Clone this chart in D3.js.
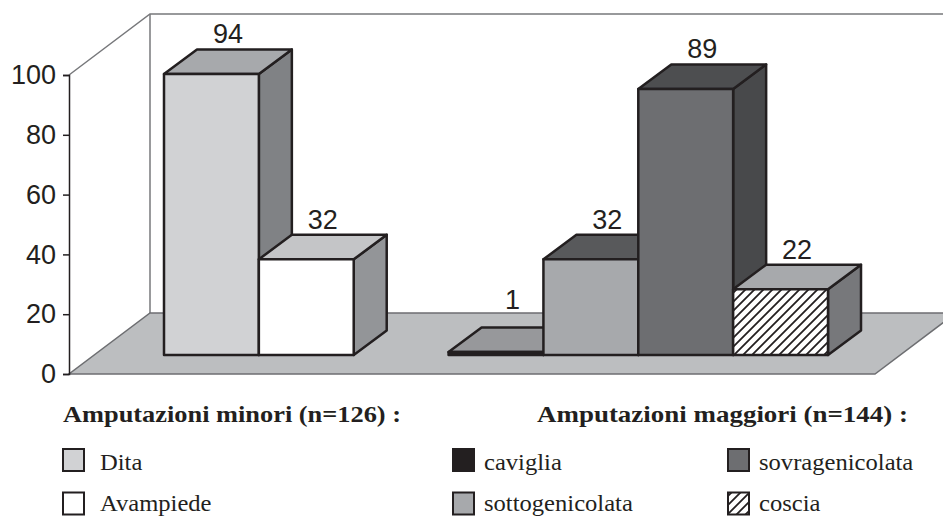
<!DOCTYPE html>
<html>
<head>
<meta charset="utf-8">
<script src="https://cdn.jsdelivr.net/npm/d3@7"></script>
<style>
  body { margin: 0; background: #fff; }
  svg { display: block; }
</style>
</head>
<body>
<div id="chart"></div>
<script>
// data
const categories = ["Dita", "Avampiede", "caviglia", "sottogenicolata", "sovragenicolata", "coscia"];
const values = [94, 32, 1, 32, 89, 22];
const groups = ["minori", "minori", "maggiori", "maggiori", "maggiori", "maggiori"];
const groupTitles = ["Amputazioni minori (n=126) :", "Amputazioni maggiori (n=144) :"];
const yTicks = [0, 20, 40, 60, 80, 100];

// face colours for each bar (front, top, side)
const palette = {
  "Dita":            { front: "#d1d2d4", top: "#a7a9ac", side: "#808285" },
  "Avampiede":       { front: "#ffffff", top: "#c4c5c7", side: "#939598" },
  "caviglia":        { front: "#231f20", top: "#97989b", side: "#58595b" },
  "sottogenicolata": { front: "#a7a9ac", top: "#58595b", side: "#6d6e71" },
  "sovragenicolata": { front: "#6d6e71", top: "#4d4e50", side: "#48494b" },
  "coscia":          { front: "url(#hatch)", top: "#a7a9ac", side: "#77787b" }
};

const width = 943, height = 516;
const ink = "#231f20";

const svg = d3.select("#chart")
  .append("svg")
    .attr("width", width)
    .attr("height", height);

const defs = svg.append("defs");
const hatch = defs.append("pattern")
    .attr("id", "hatch")
    .attr("patternUnits", "userSpaceOnUse")
    .attr("width", 9)
    .attr("height", 9);
hatch.append("rect").attr("width", 9).attr("height", 9).attr("fill", "#fff");
hatch.append("path")
    .attr("d", "M-1,1 L1,-1 M0,9 L9,0 M8,10 L10,8")
    .attr("stroke", ink)
    .attr("stroke-width", 1.8);

// 3d frame geometry
const axisX = 69;
const floorDx = 81, floorDy = -61;     // depth of the floor
const barOffY = -19;                    // where the bars stand in the depth
const depthX = 33, depthY = -24.5;      // depth of each bar

const yAxis = d3.scaleLinear().domain([0, 100]).range([374, 75]);
const yBar = d3.scaleLinear().domain([0, 100]).range([374 + barOffY, 75 + barOffY]);

// 7 slots: two minori bars, an empty one, four maggiori bars
const x = d3.scaleBand()
  .domain(d3.range(7))
  .range([164, 828])
  .padding(0);
const slotOf = i => i + (groups[i] === "maggiori" ? 1 : 0);

// back wall
const y0 = yAxis(0), yTop = yAxis(100);
svg.append("path")
    .attr("d", `M${axisX},${yTop} L${axisX + floorDx},${yTop + floorDy} L${width + 20},${yTop + floorDy}`)
    .attr("fill", "none")
    .attr("stroke", "#77787b")
    .attr("stroke-width", 1.5);
svg.append("line")
    .attr("x1", axisX + floorDx).attr("x2", axisX + floorDx)
    .attr("y1", yTop + floorDy).attr("y2", y0 + floorDy)
    .attr("stroke", "#77787b")
    .attr("stroke-width", 1.5);

// floor
const floorRight = 875;
svg.append("path")
    .attr("d", `M${axisX},${y0} L${floorRight},${y0} L${floorRight + floorDx},${y0 + floorDy} L${axisX + floorDx},${y0 + floorDy} Z`)
    .attr("fill", "#bcbec0")
    .attr("stroke", "#6d6e71")
    .attr("stroke-width", 1.5);

// y axis
const axisG = svg.append("g")
    .attr("transform", `translate(${axisX},0)`)
    .call(d3.axisLeft(yAxis).tickValues(yTicks).tickSize(6).tickPadding(7));
axisG.select(".domain").attr("stroke", ink).attr("stroke-width", 1.5);
axisG.selectAll(".tick line").attr("stroke", ink).attr("stroke-width", 1.5);
axisG.selectAll(".tick text")
    .attr("fill", ink)
    .style("font-family", "'Liberation Sans', Arial, sans-serif")
    .style("font-size", "27px");

// bars, left to right so the next one covers the previous side
const bars = svg.append("g");
categories.forEach((cat, i) => {
  const c = palette[cat];
  const x0 = x(slotOf(i)), x1 = x0 + x.bandwidth();
  const yb = yBar(0), yt = yBar(values[i]);
  const g = bars.append("g")
      .attr("stroke", ink)
      .attr("stroke-width", 2.5)
      .attr("stroke-linejoin", "round");

  g.append("path")
      .attr("d", `M${x1},${yb} L${x1 + depthX},${yb + depthY} L${x1 + depthX},${yt + depthY} L${x1},${yt} Z`)
      .attr("fill", c.side);
  g.append("path")
      .attr("d", `M${x0},${yt} L${x0 + depthX},${yt + depthY} L${x1 + depthX},${yt + depthY} L${x1},${yt} Z`)
      .attr("fill", c.top);
  g.append("rect")
      .attr("x", x0)
      .attr("y", yt)
      .attr("width", x.bandwidth())
      .attr("height", yb - yt)
      .attr("fill", c.front);

  // value label, kept above the back edge of the floor
  const ly = Math.min(yt + depthY - 6, y0 + floorDy - 4);
  svg.append("text")
      .attr("x", (x0 + x1) / 2 + depthX / 2)
      .attr("y", ly)
      .attr("text-anchor", "middle")
      .attr("fill", ink)
      .style("font-family", "'Liberation Sans', Arial, sans-serif")
      .style("font-size", "27px")
      .text(values[i]);
});

// legend
const serif = "'Liberation Serif', 'Times New Roman', serif";
const titleX = [63, 537], titleW = [338, 371];
groupTitles.forEach((t, k) => {
  svg.append("text")
      .attr("x", titleX[k])
      .attr("y", 422)
      .attr("textLength", titleW[k])
      .attr("lengthAdjust", "spacingAndGlyphs")
      .attr("fill", ink)
      .style("font-family", serif)
      .style("font-weight", "bold")
      .style("font-size", "23px")
      .text(t);
});

const boxX = [63, 453, 728], textX = [100, 484, 759];
const boxY = [449, 492.5], textY = [470, 510.5];
const legendSpots = [[0, 0], [0, 1], [1, 0], [1, 1], [2, 0], [2, 1]];

const legend = svg.append("g");
categories.forEach((cat, k) => {
  const [col, row] = legendSpots[k];
  legend.append("rect")
      .attr("x", boxX[col])
      .attr("y", boxY[row])
      .attr("width", 21)
      .attr("height", 22)
      .attr("fill", palette[cat].front)
      .attr("stroke", ink)
      .attr("stroke-width", 2);
  legend.append("text")
      .attr("transform", `translate(${textX[col]},${textY[row]}) scale(1.07,1)`)
      .attr("fill", ink)
      .style("font-family", serif)
      .style("font-size", "23px")
      .text(cat);
});
</script>
</body>
</html>
